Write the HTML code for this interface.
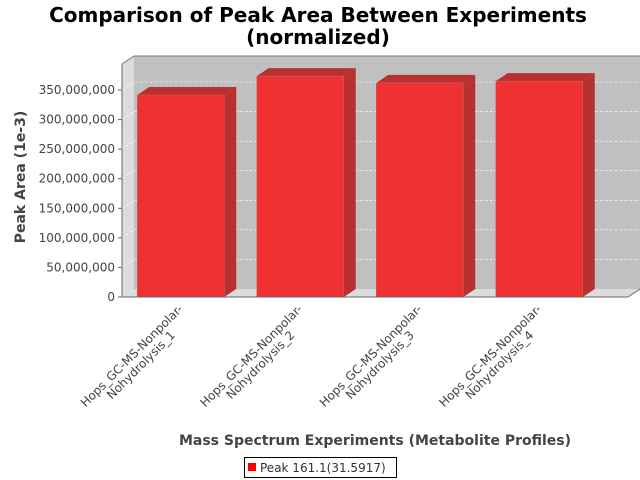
<!DOCTYPE html>
<html><head><meta charset="utf-8"><style>body{margin:0;background:#fff}svg{display:block;font-family:"Liberation Sans","DejaVu Sans",sans-serif}</style></head>
<body>
<svg id="c" width="640" height="480" xmlns="http://www.w3.org/2000/svg">
<rect width="640" height="480" fill="#fff"/>
<text x="318" y="22" font-size="20" font-weight="bold" text-anchor="middle" fill="#000" font-family="DejaVu Sans, sans-serif">Comparison of Peak Area Between Experiments</text>
<text x="318" y="44" font-size="20" font-weight="bold" text-anchor="middle" fill="#000" font-family="DejaVu Sans, sans-serif">(normalized)</text>
<g id="plot"></g>
<text transform="translate(25,177) rotate(-90)" font-size="14" font-weight="bold" text-anchor="middle" fill="#444" font-family="DejaVu Sans, sans-serif">Peak Area (1e-3)</text>
<text x="375" y="445" font-size="14" font-weight="bold" text-anchor="middle" fill="#444" font-family="DejaVu Sans, sans-serif">Mass Spectrum Experiments (Metabolite Profiles)</text>
<g>
<rect x="244.5" y="457.5" width="152" height="20" fill="#fff" stroke="#000"/>
<rect x="248" y="463" width="8" height="8" fill="#f00"/>
<text x="260" y="472" font-size="12" fill="#333" font-family="DejaVu Sans, sans-serif">Peak 161.1(31.5917)</text>
</g>
</svg>
<script>
const categories=["Hops_GC-MS-Nonpolar-|Nohydrolysis_1","Hops_GC-MS-Nonpolar-|Nohydrolysis_2","Hops_GC-MS-Nonpolar-|Nohydrolysis_3","Hops_GC-MS-Nonpolar-|Nohydrolysis_4"];
const values=[341500000,373500000,362000000,365000000];
const yTicks=[0,50000000,100000000,150000000,200000000,250000000,300000000,350000000];
const NS="http://www.w3.org/2000/svg";
const g=document.getElementById('plot');
const X0=122,X1=628,YB=297,DX=12,DY=8,YT=64;
const y=v=>YB-v/350000000*207;
const bw=119.5;
const cx=i=>X0+bw*(i+0.5)-1.5;
function mk(t,a,name){const e=document.createElementNS(NS,t);for(const k in a)e.setAttribute(k,a[k]);


g.appendChild(e);return e;}
mk('polygon',{points:`${X0+DX},${YT-DY} 640,${YT-DY} 640,${YB-DY} ${X0+DX},${YB-DY}`,fill:'#c0c0c0'},'back-wall');
mk('polygon',{points:`${X0},${YT} ${X0+DX},${YT-DY} ${X0+DX},${YB-DY} ${X0},${YB}`,fill:'#dcdcdc'},'side-wall');
mk('polygon',{points:`${X0},${YB} ${X0+DX},${YB-DY} 640,${YB-DY} ${X1},${YB}`,fill:'#dcdcdc'},'floor');
mk('polyline',{points:`${X0},${YT} ${X0+DX},${YT-DY} 640,${YT-DY}`,fill:'none',stroke:'#777'},'plot-outline');
yTicks.forEach(t=>{const yy=y(t);
 if(t>0){mk('polyline',{points:`${X0},${yy} ${X0+DX},${yy-DY} 640,${yy-DY}`,fill:'none',stroke:'#fff','stroke-dasharray':'3,2','stroke-width':0.6},'gridline');}
 mk('line',{x1:X0-4,x2:X0,y1:yy,y2:yy,stroke:'#666'},'y-tick');
 const tx=mk('text',{x:X0-7,y:yy+4,'font-size':12,'text-anchor':'end',fill:'#444','font-family':'DejaVu Sans, sans-serif'},'y-tick-label');tx.textContent=t.toLocaleString('en-US');
});
values.forEach((v,i)=>{const c=cx(i),l=c-43,r=c+44,top=y(v);
 mk('polygon',{points:`${r},${top} ${r+DX},${top-DY} ${r+DX},${YB-DY} ${r},${YB}`,fill:'#b83030'},'bar-side');
 mk('polygon',{points:`${l},${top} ${l+DX},${top-DY} ${r+DX},${top-DY} ${r},${top}`,fill:'#b83030'},'bar-top');
 mk('rect',{x:l,y:top,width:r-l,height:YB-top,fill:'#ef3131',stroke:'#c66','stroke-width':0.5},'bar-'+(i+1));
 const parts=categories[i].split('|');
 const lg=mk('g',{transform:`translate(${c+1},${YB+15}) rotate(-45)`},'x-tick-label');
 parts.forEach((p,j)=>{const t=document.createElementNS(NS,'text');t.setAttribute('x',-66);t.setAttribute('y',j*13);t.setAttribute('text-anchor','middle');t.setAttribute('font-size','12');t.setAttribute('fill','#444');t.setAttribute('font-family','DejaVu Sans, sans-serif');
 
 
 t.textContent=p;lg.appendChild(t);});
});
mk('line',{x1:X0,x2:X0,y1:YT,y2:YB,stroke:'#666'},'y-axis-line');
mk('line',{x1:X0,x2:X1,y1:YB,y2:YB,stroke:'#666'},'x-axis-line');
mk('line',{x1:X1,x2:640,y1:YB,y2:YB-DY,stroke:'#666'},'floor-edge');
</script>
</body></html>
